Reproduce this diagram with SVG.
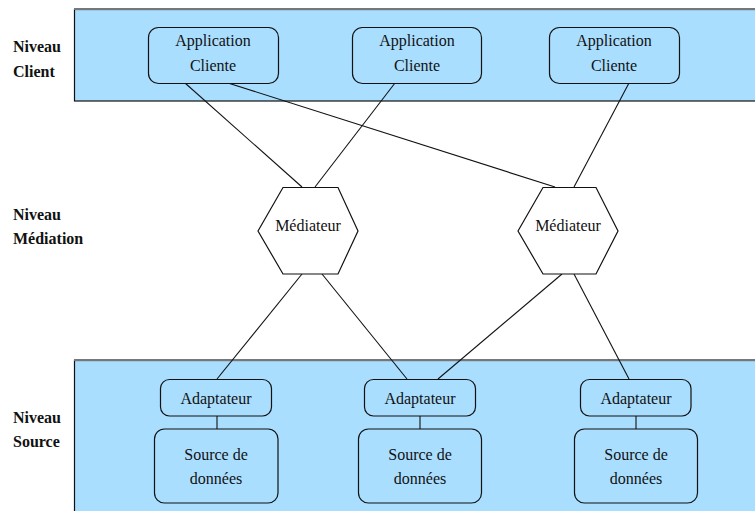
<svg xmlns="http://www.w3.org/2000/svg" width="755" height="511" viewBox="0 0 755 511">
<style>
.band{fill:#aadeff;stroke:#111;stroke-width:1.2}
.btop{stroke:#777;stroke-width:2}
.box{fill:#aadeff;stroke:#111;stroke-width:1.2}
.hex{fill:#fff;stroke:#111;stroke-width:1.2}
.t{font-family:'Liberation Serif',Tinos,'Times New Roman','DejaVu Serif',serif;font-size:16px;fill:#111;text-anchor:middle}
.lbl{font-family:'Liberation Serif',Tinos,'Times New Roman','DejaVu Serif',serif;font-size:16px;font-weight:bold;fill:#111}
.c{stroke:#111;stroke-width:1.1;fill:none}
</style>
<rect width="755" height="511" fill="#fff"/>
<g id="band-client">
<rect class="band" x="74.5" y="9.5" width="690" height="91.5"/>
<line class="btop" x1="74" y1="9" x2="755" y2="9"/>
</g>
<g id="band-source">
<rect class="band" x="74.5" y="360.5" width="690" height="160"/>
<line class="btop" x1="74" y1="360" x2="755" y2="360"/>
</g>
<g id="labels">
<text class="lbl" x="13" y="52">Niveau</text>
<text class="lbl" x="13" y="77">Client</text>
<text class="lbl" x="13" y="220">Niveau</text>
<text class="lbl" x="13" y="244">Médiation</text>
<text class="lbl" x="13" y="423">Niveau</text>
<text class="lbl" x="13" y="447">Source</text>
</g>
<g id="connectors">
<line class="c" x1="185" y1="83" x2="302" y2="187"/>
<line class="c" x1="395" y1="83" x2="315" y2="187"/>
<line class="c" x1="228" y1="83" x2="555" y2="187"/>
<line class="c" x1="629" y1="83" x2="574" y2="187"/>
<line class="c" x1="302" y1="274" x2="217" y2="379"/>
<line class="c" x1="322" y1="274" x2="407" y2="379"/>
<line class="c" x1="562" y1="274" x2="438" y2="379"/>
<line class="c" x1="574" y1="274" x2="629" y2="379"/>
<line class="c" x1="217" y1="416" x2="217" y2="429"/>
<line class="c" x1="420" y1="416" x2="420" y2="429"/>
<line class="c" x1="636" y1="416" x2="636" y2="429"/>
</g>
<g id="client1">
<rect class="box" x="148.5" y="27.5" width="130" height="56" rx="10"/>
<text class="t" x="213" y="46">Application</text>
<text class="t" x="213" y="71">Cliente</text>
</g>
<g id="client2">
<rect class="box" x="352.5" y="27.5" width="129" height="56" rx="10"/>
<text class="t" x="417" y="46">Application</text>
<text class="t" x="417" y="71">Cliente</text>
</g>
<g id="client3">
<rect class="box" x="549.5" y="27.5" width="130" height="56" rx="10"/>
<text class="t" x="614" y="46">Application</text>
<text class="t" x="614" y="71">Cliente</text>
</g>
<g id="mediateur1">
<polygon class="hex" points="258,231 283,187.5 338,187.5 358,231 338,274 283,274"/>
<text class="t" x="308" y="231">Médiateur</text>
</g>
<g id="mediateur2">
<polygon class="hex" points="518,231 543,187.5 596,187.5 618,231 596,274 543,274"/>
<text class="t" x="568" y="231">Médiateur</text>
</g>
<g id="adaptateur1">
<rect class="box" x="160.5" y="379.5" width="111" height="36.5" rx="9"/>
<text class="t" x="216" y="404">Adaptateur</text>
</g>
<g id="adaptateur2">
<rect class="box" x="364.5" y="379.5" width="111" height="36.5" rx="9"/>
<text class="t" x="420" y="404">Adaptateur</text>
</g>
<g id="adaptateur3">
<rect class="box" x="580.5" y="379.5" width="110.5" height="36.5" rx="9"/>
<text class="t" x="636" y="404">Adaptateur</text>
</g>
<g id="source1">
<rect class="box" x="154.5" y="429" width="123.5" height="74" rx="10"/>
<text class="t" x="216" y="460">Source de</text>
<text class="t" x="216" y="484">données</text>
</g>
<g id="source2">
<rect class="box" x="358.5" y="429" width="123" height="74" rx="10"/>
<text class="t" x="420" y="460">Source de</text>
<text class="t" x="420" y="484">données</text>
</g>
<g id="source3">
<rect class="box" x="574.5" y="429" width="123" height="74" rx="10"/>
<text class="t" x="636" y="460">Source de</text>
<text class="t" x="636" y="484">données</text>
</g>
</svg>
